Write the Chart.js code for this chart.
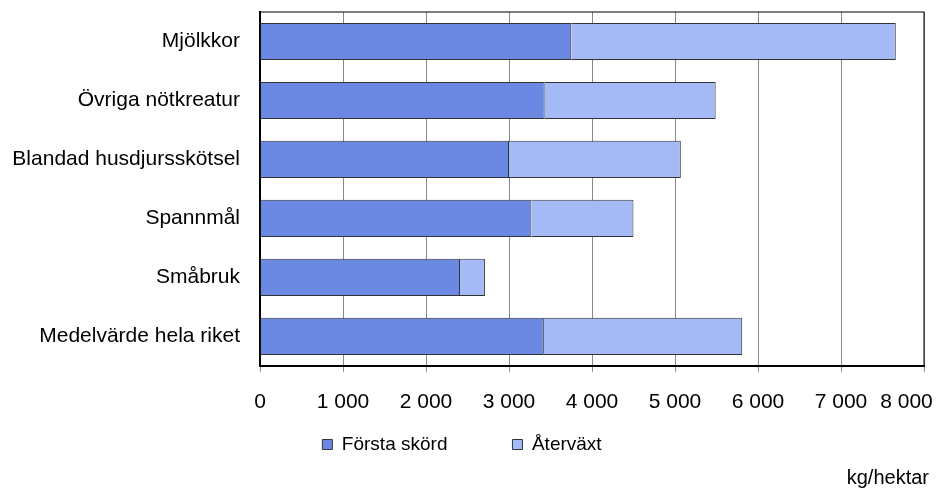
<!DOCTYPE html>
<html><head><meta charset="utf-8">
<script src="https://cdn.jsdelivr.net/npm/chart.js@4"></script>
<style>
body{margin:0;background:#fff;font-family:"Liberation Sans",Arial,sans-serif}
#wrap{position:relative;width:937px;height:498px}
#unit{position:absolute;right:8px;top:466px;font-size:20px;color:#000}
</style></head><body>
<div id="wrap"><canvas id="c" width="937" height="498"></canvas><div id="unit">kg/hektar</div></div>
<script>
const categories = ['Mjölkkor','Övriga nötkreatur','Blandad husdjursskötsel','Spannmål','Småbruk','Medelvärde hela riket'];
const forstaSkord = [3750, 3430, 3000, 3270, 2410, 3420];
const atervaxt    = [3910, 2060, 2070, 1230, 300, 2390];
const xTicks = [0,1000,2000,3000,4000,5000,6000,7000,8000];

const FONT = {family:'"Liberation Sans", Arial, sans-serif', size:21};
const fmt = v => v === 0 ? '0' : String(v).replace(/\B(?=(\d{3})+(?!\d))/g, ' ');

new Chart(document.getElementById('c'), {
  type: 'bar',
  data: {
    labels: categories,
    datasets: [
      {label:'Första skörd', data:forstaSkord, backgroundColor:'#6b88e3', borderColor:'#333', borderWidth:1, categoryPercentage:0.63, barPercentage:1},
      {label:'Återväxt',     data:atervaxt,    backgroundColor:'#a3baf7', borderColor:'#333', borderWidth:1, categoryPercentage:0.63, barPercentage:1},
    ]
  },
  options: {
    indexAxis:'y', responsive:false, animation:false,
    layout:{padding:{top:12, right:13, bottom:34, left:0}},
    plugins:{
      legend:{position:'bottom', labels:{color:'#000', font:{...FONT, size:19}, boxWidth:10, boxHeight:10, padding:8,
        generateLabels:ch=>{
          const items = Chart.defaults.plugins.legend.labels.generateLabels(ch);
          items[0].text = items[0].text + '\u2003\u2003\u2003';
          return items;
        }}},
      tooltip:{enabled:false}
    },
    scales:{
      x:{stacked:true, min:0, max:8000, afterBuildTicks:a=>{a.ticks = xTicks.map(v=>({value:v}));},
         afterFit:s=>{s.paddingLeft = 0; s.paddingRight = 0; s.height -= 6;},
         grid:{color:'#888', lineWidth:1, tickLength:6, drawTicks:true},
         border:{color:'#000', width:2},
         ticks:{color:'#000', font:FONT, padding:18, maxRotation:0, minRotation:0, autoSkip:false,
                callback:v=>v === 8000 ? fmt(v) + '\u2007\u2007\u2007' : fmt(v)}},
      y:{stacked:true, afterFit:s=>{s.width = 260; s.paddingTop = 0; s.paddingBottom = 0;},
         grid:{display:false},
         border:{color:'#000', width:2},
         ticks:{color:'#000', font:FONT, padding:12}}
    }
  },
  plugins:[{id:'frame', afterDraw(ch){
    const {ctx, chartArea:a} = ch;
    ctx.save(); ctx.strokeStyle='#000'; ctx.lineWidth=1;
    ctx.strokeRect(a.left, a.top, a.right-a.left, a.bottom-a.top);
    ctx.restore();
  }}]
});
</script></body></html>
